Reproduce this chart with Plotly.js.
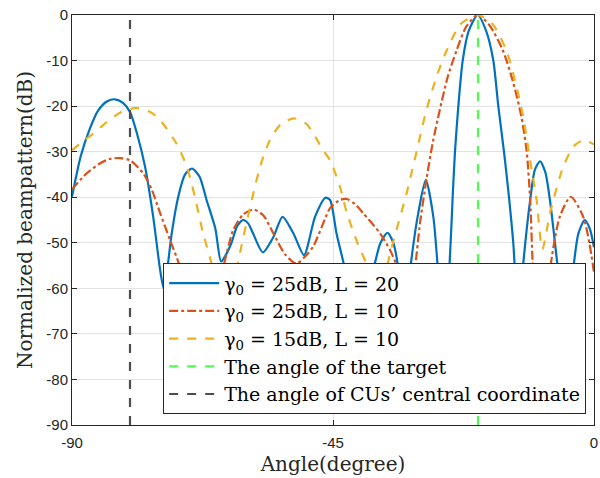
<!DOCTYPE html>
<html>
<head>
<meta charset="utf-8">
<script src="https://cdn.plot.ly/plotly-3.0.1.min.js"></script>
<style>
html,body{margin:0;padding:0;background:#fff;}
#chart{width:600px;height:478px;}
</style>
</head>
<body>
<div id="chart"></div>
<script>
// ---- data ----
const angleL20 = [-90,-88.5,-87,-85.5,-84,-82.6,-81.2,-80,-78.8,-77.4,-76,-74.8,-74.2,-73.6,-72.8,-71.7,-70.5,-69.3,-68,-66.8,-65.3,-64.3,-63.4,-62.5,-61.5,-60.5,-59.6,-58.7,-57.1,-55.3,-53.7,-51.8,-50,-48.1,-46.3,-45.5,-44.4,-42.9,-40.5,-38.05,-36.8,-35.6,-34.6,-33.7,-32.7,-31.7,-30.3,-29,-27.7,-26.9,-25.8,-24.72,-24.37,-23.97,-23.39,-22.64,-21.6,-20.06,-18.6,-17.36,-16.5,-15.52,-14.66,-13.92,-13.0,-12.3,-11,-10.2,-9.3,-8.4,-7.6,-6.2,-4.9,-3.6,-2.7,-1.6,-0.7,0];
const gainL20 = [-39.9,-31,-25.2,-21,-19,-18.5,-19.3,-21.3,-26,-33.3,-44.3,-56,-60,-56,-47.9,-40,-35,-33.7,-35.5,-40.6,-46.8,-54.1,-52.5,-50,-46.3,-45,-45.8,-48.2,-52.1,-48.8,-44.3,-48,-52.7,-44.3,-40.1,-40.6,-47.9,-56,-72,-56,-50,-47.8,-50,-56,-70,-56,-43.5,-36.2,-44.3,-56,-72,-50,-40,-30,-20,-10,-3.5,0,-3.5,-10,-20,-30,-40,-50,-68,-56,-40.6,-34,-32.1,-34.5,-40.6,-56,-70,-56,-48,-45,-47,-51];

const angleL10 = [-90,-87.5,-85.2,-83.5,-81.7,-80,-77.7,-76.2,-74.8,-73.1,-71.4,-69.5,-67.5,-65.6,-63.9,-62.2,-60.5,-58.7,-57,-55.3,-53.3,-51.3,-49.8,-48.4,-46.1,-45.5,-43.8,-42.6,-41.2,-39.8,-36.9,-35,-33.8,-32.4,-30.9,-30,-28.9,-27.8,-26.6,-25.2,-23.7,-22,-20.06,-18,-15.7,-14,-12.5,-11.6,-11,-10.5,-9.1,-7.6,-5.9,-4,-1.85,-0.8,0];
const gainL10 = [-38.3,-34.8,-32.6,-31.6,-31.4,-31.9,-34.8,-38.5,-43.5,-49.4,-55.2,-65,-75,-63,-55.2,-47.2,-43.8,-42.7,-44,-47.9,-52.5,-54.6,-53,-50.8,-43.9,-42.4,-40.6,-40.4,-41.5,-43.5,-47.9,-52,-56,-68,-56,-45.7,-36.2,-28,-20.9,-13.5,-7.8,-2.5,0,-2.3,-7.8,-14.5,-22.4,-30,-40.6,-56,-75,-56,-44.3,-39.9,-44.3,-50,-56.6];

const angle15dB = [-90,-88,-86.3,-84,-81.5,-78.9,-76.5,-74.8,-72,-70.2,-68.8,-67.4,-65.7,-63.8,-61.6,-59,-57.5,-55.9,-54,-51.7,-49.5,-46.7,-45.5,-43.8,-42.6,-40.8,-38.9,-37.3,-35.8,-32.3,-30.5,-28.9,-27,-25.4,-23,-20.06,-17.5,-15.1,-13.5,-12.2,-11,-9.9,-8.9,-7.5,-5.3,-3.5,-1.8,0];
const gain15dB = [-29.7,-27.6,-26,-23.5,-21.3,-20.4,-21.3,-23.1,-28.2,-33.3,-40,-47.9,-56,-80,-56,-40.6,-33,-27.5,-24,-22.7,-24,-29.7,-31.9,-37.7,-43.5,-50,-56,-75,-56,-39.1,-29.5,-20.9,-13,-7.8,-2,0,-2,-7.8,-15,-22.4,-32,-40.6,-51.4,-43,-33.3,-28.8,-27.5,-28.4];

const targetAngle = -20;
const cuAngle = -80;

const seriesNames = [
  "γ<sub>0</sub> = 25dB, L = 20",
  "γ<sub>0</sub> = 25dB, L = 10",
  "γ<sub>0</sub> = 15dB, L = 10",
  "The angle of the target",
  "The angle of CUs’ central coordinate"
];

const xRange = [-90, 0];
const yRange = [-90, 0];
const xTickVals = [-90, -45, 0];
const xTickText = ["-90", "-45", "0"];
const yTickVals = [-90, -80, -70, -60, -50, -40, -30, -20, -10, 0];
const yTickText = ["-90", "-80", "-70", "-60", "-50", "-40", "-30", "-20", "-10", "0"];

// ---- traces ----
const serif = "DejaVu Serif, Liberation Serif, serif";
const traces = [
  {x: angleL20, y: gainL20, name: seriesNames[0], mode: "lines",
   line: {color: "#0072BD", width: 2.2, shape: "spline", smoothing: 0.7}, legendgroup: "a"},
  {x: angleL10, y: gainL10, name: seriesNames[1], mode: "lines",
   line: {color: "#D95319", width: 2.2, dash: "dashdot", shape: "spline", smoothing: 0.7}, legendgroup: "b"},
  {x: angle15dB, y: gain15dB, name: seriesNames[2], mode: "lines",
   line: {color: "#EDB120", width: 2.2, dash: "dash", shape: "spline", smoothing: 0.7}, legendgroup: "c"},
  {x: [targetAngle, targetAngle], y: yRange, name: seriesNames[3], mode: "lines",
   line: {color: "#4DFF4D", width: 2.2, dash: "dash"}, legendgroup: "d"},
  {x: [cuAngle, cuAngle], y: yRange, name: seriesNames[4], mode: "lines",
   line: {color: "#4D4D4D", width: 2.2, dash: "dash"}, legendgroup: "e"}
];

const axisCommon = {
  showline: true, linecolor: "#262626", linewidth: 1, mirror: "allticks",
  ticks: "inside", ticklen: 5, tickwidth: 1, tickcolor: "#262626",
  showgrid: true, gridcolor: "#e3e3e3", gridwidth: 1, zeroline: false,
  tickfont: {family: "Liberation Sans, Arial, sans-serif", size: 15, color: "#262626"},
  automargin: false
};

const layout = {
  width: 600, height: 478,
  margin: {l: 72, r: 6, t: 15, b: 53},
  paper_bgcolor: "#ffffff", plot_bgcolor: "#ffffff",
  showlegend: true,
  xaxis: Object.assign({}, axisCommon, {
    range: xRange, tickmode: "array", tickvals: xTickVals, ticktext: xTickText,
    ticklabelstandoff: 4,
    title: {text: "Angle(degree)", font: {family: serif, size: 20, color: "#262626"}, standoff: 6}
  }),
  yaxis: Object.assign({}, axisCommon, {
    range: yRange, tickmode: "array", tickvals: yTickVals, ticktext: yTickText,
    title: {text: "Normalized beampattern(dB)", font: {family: serif, size: 20, color: "#262626"}, standoff: 8}
  }),
  legend: {
    x: 0.985, y: 0.026, xanchor: "right", yanchor: "bottom",
    bgcolor: "#ffffff", bordercolor: "#262626", borderwidth: 1,
    font: {family: serif, size: 19, color: "#000000"},
    traceorder: "grouped", tracegroupgap: 0, itemwidth: 50
  }
};

Plotly.newPlot("chart", traces, layout, {staticPlot: true, displayModeBar: false});
</script>
</body>
</html>
